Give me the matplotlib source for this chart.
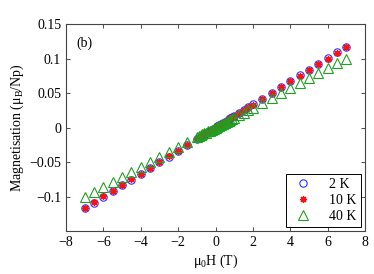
import matplotlib
matplotlib.use('Agg')
import matplotlib.pyplot as plt

plt.rcParams['font.family'] = ['Liberation Serif', 'DejaVu Serif']
plt.rcParams['mathtext.fontset'] = 'custom'
plt.rcParams['mathtext.rm'] = 'Liberation Serif'
plt.rcParams['mathtext.it'] = 'Liberation Serif:italic'
plt.rcParams['font.size'] = 10

# field (T)
field = [-7, -6.5, -6, -5.5, -5, -4.5, -4, -3.5, -3, -2.5, -2, -1.5, -1,
         -0.9, -0.8, -0.7, -0.6, -0.5, -0.4, -0.3, -0.2, -0.1, 0,
         0.1, 0.2, 0.3, 0.4, 0.5, 0.6, 0.7, 0.8, 0.9,
         1, 1.25, 1.5, 1.75, 2, 2.5, 3, 3.5, 4, 4.5, 5, 5.5, 6, 6.5, 7]

# magnetisation (mu_B / Np)
m_2K = [-0.117, -0.109, -0.1005, -0.0925, -0.084, -0.0757, -0.0672, -0.0588, -0.0505, -0.042, -0.0337, -0.0253, -0.0169,
        -0.0152, -0.0135, -0.0118, -0.0101, -0.0084, -0.0067, -0.0051, -0.0034, -0.0017, 0.0,
        0.0017, 0.0034, 0.0051, 0.0067, 0.0084, 0.0101, 0.0118, 0.0135, 0.0152,
        0.0169, 0.0211, 0.0253, 0.0295, 0.0337, 0.042, 0.0505, 0.0588, 0.0672, 0.0757, 0.084, 0.0925, 0.1005, 0.109, 0.117]
m_10K = [-0.1162, -0.1082, -0.0998, -0.0918, -0.0834, -0.0752, -0.0668, -0.0584, -0.0501, -0.0417, -0.0334, -0.0251, -0.0168,
         -0.0151, -0.0134, -0.0117, -0.0100, -0.0083, -0.0067, -0.0050, -0.0033, -0.0017, 0.0,
         0.0017, 0.0033, 0.0050, 0.0067, 0.0083, 0.0100, 0.0117, 0.0134, 0.0151,
         0.0168, 0.0209, 0.0251, 0.0293, 0.0334, 0.0417, 0.0501, 0.0584, 0.0668, 0.0752, 0.0834, 0.0918, 0.0998, 0.1082, 0.1162]
m_40K = [-0.100, -0.093, -0.0858, -0.0787, -0.0715, -0.0644, -0.0572, -0.050, -0.0429, -0.0358, -0.0286, -0.0215, -0.0143,
         -0.0129, -0.0114, -0.0100, -0.0086, -0.0072, -0.0057, -0.0043, -0.0029, -0.0014, 0.0,
         0.0014, 0.0029, 0.0043, 0.0057, 0.0072, 0.0086, 0.0100, 0.0114, 0.0129,
         0.0143, 0.0179, 0.0215, 0.0251, 0.0286, 0.0358, 0.0429, 0.050, 0.0572, 0.0644, 0.0715, 0.0787, 0.0858, 0.093, 0.100]

xticks = [-8, -6, -4, -2, 0, 2, 4, 6, 8]
yticks = [-0.1, -0.05, 0, 0.05, 0.1, 0.15]
ytick_labels = ['\u22120.1', '\u22120.05', '0', '0.05', '0.1', '0.15']

fig = plt.figure(figsize=(3.74, 2.74), dpi=100)
ax = fig.add_axes([0.1765, 0.157, 0.7995, 0.755])

ax.plot(field, m_2K, 'o', ls='none', mfc='none', mec='#3030ff', ms=5.3, mew=0.8, label='2 K')
ax.plot(field, m_10K, marker=(8, 2, 0), ls='none', color='#ff1010', mec='#ff1010', ms=5, mew=0.9, label='10 K')
ax.plot(field, m_40K, '^', ls='none', mfc='none', mec='#20a020', ms=6.5, mew=0.8, label='40 K')

ax.set_xlim(-8, 8)
ax.set_ylim(-0.15, 0.15)
ax.set_xticks(xticks)
ax.set_xticklabels(['\u2212' + str(-t) if t < 0 else str(t) for t in xticks])
ax.set_yticks(yticks)
ax.set_yticklabels(ytick_labels)
ax.tick_params(direction='in', top=True, right=True, length=3, width=0.6, colors='#333333', labelcolor='black')
for s in ax.spines.values():
    s.set_color('#444444')
    s.set_linewidth(0.8)

ax.set_xlabel('\u03bc$_0$H (T)', labelpad=3)
ax.set_ylabel('Magnetisation (\u03bc$_\\mathrm{B}$/Np)', labelpad=2)
ax.text(-7.45, 0.1225, '(b)', va='center', ha='left')

leg = ax.legend(loc='lower right', fancybox=False, edgecolor='black', framealpha=1,
                borderaxespad=0.3, handletextpad=1.0, labelspacing=0.2, handlelength=1.8,
                borderpad=0.3)
leg.get_frame().set_linewidth(0.7)

fig.savefig('out.png', dpi=100)
